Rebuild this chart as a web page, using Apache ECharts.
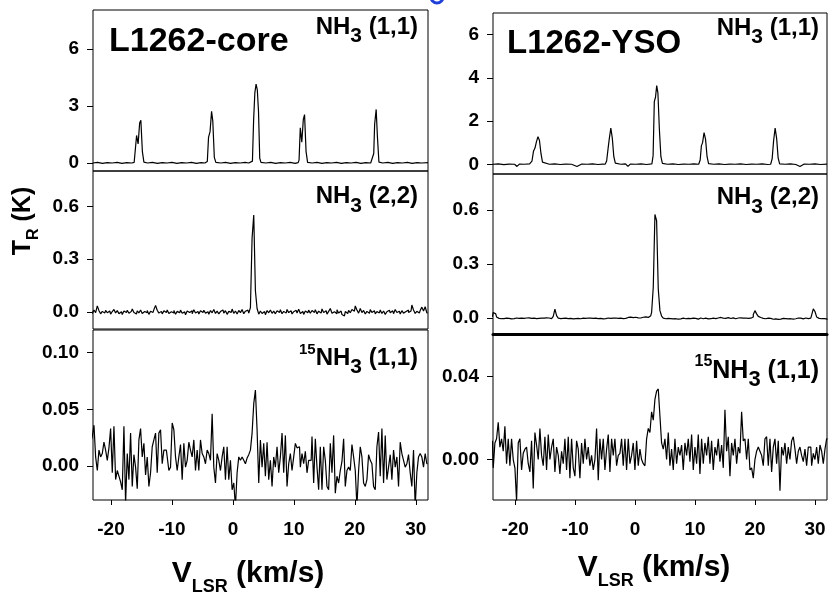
<!DOCTYPE html>
<html>
<head>
<meta charset="utf-8">
<script src="https://cdn.jsdelivr.net/npm/echarts@6/dist/echarts.min.js"></script>
<style>
  html, body { margin: 0; padding: 0; background: #fff; }
  #chart { width: 829px; height: 595px; }
</style>
</head>
<body>
<div id="chart"></div>
<script>
var FONT = '"Liberation Sans", Arial, sans-serif';

// channel grids (km/s) of the two spectra sets
var vStartCore = -23.2, dvCore = 0.273;
var vStartYso = -23.8, dvYso = 0.278;

// NH3 (1,1), read as [v, T(K)]
var nh311Core = [
  [-23.0,0.00],[-22.2,0.03],[-21.4,-0.02],[-20.6,0.02],[-19.8,0.00],[-19.0,0.03],[-18.2,-0.02],[-17.4,0.02],[-16.6,0.00],[-16.2,0.03],
  [-16.0,0.10],[-15.8,1.45],[-15.55,1.00],[-15.3,2.10],[-15.1,2.25],[-14.85,0.60],[-14.6,0.05],
  [-14.0,0.00],[-13.2,0.03],[-12.4,-0.02],[-11.6,0.02],[-10.8,0.00],[-10.0,0.03],[-9.2,-0.02],[-8.4,0.02],[-7.6,0.00],[-6.8,0.03],[-6.0,-0.02],[-5.2,0.02],[-4.6,0.00],
  [-4.2,0.08],[-4.0,1.35],[-3.75,1.65],[-3.5,2.72],[-3.3,2.20],[-3.05,0.30],[-2.8,0.03],
  [-2.0,0.00],[-1.2,0.03],[-0.4,-0.02],[0.4,0.02],[1.2,0.00],[2.0,0.03],[2.6,0.00],
  [3.2,0.10],[3.4,2.30],[3.6,3.70],[3.8,4.15],[4.0,3.85],[4.2,2.70],[4.4,0.25],[4.6,0.03],
  [5.4,0.00],[6.2,0.03],[7.0,-0.02],[7.8,0.02],[8.6,0.00],[9.4,0.03],[10.2,-0.02],[10.7,0.02],
  [10.85,0.15],[11.05,1.85],[11.3,1.10],[11.55,2.30],[11.75,2.55],[12.0,0.60],[12.25,0.03],
  [13.0,0.00],[13.8,0.03],[14.6,-0.02],[15.4,0.02],[16.2,0.00],[17.0,0.03],[17.8,-0.02],[18.6,0.02],[19.4,0.00],[20.2,0.03],[21.0,-0.02],[21.8,0.02],[22.6,0.00],
  [22.85,0.10],[23.1,0.50],[23.25,2.05],[23.5,2.82],[23.7,1.40],[23.95,0.05],
  [24.6,0.00],[25.4,0.03],[26.2,-0.02],[27.0,0.02],[27.8,0.00],[28.6,0.03],[29.4,-0.02],[30.2,0.02],[31.0,0.00],[32.0,0.02]
];
var nh311Yso = [
  [-23.7,0.00],[-22.8,0.02],[-21.9,-0.02],[-21.0,0.01],[-20.1,0.00],[-19.7,-0.10],[-19.3,0.01],[-18.5,0.00],[-17.6,0.02],
  [-17.2,0.15],[-16.95,0.60],[-16.7,0.75],[-16.45,1.05],[-16.2,1.28],[-15.95,1.10],[-15.7,0.50],[-15.45,0.10],[-15.2,0.02],
  [-14.3,0.00],[-13.4,0.02],[-12.5,-0.01],[-11.6,0.01],[-10.6,0.00],[-9.7,-0.10],[-8.9,0.01],[-8.0,0.00],[-7.1,0.02],[-6.2,-0.01],[-5.4,0.01],[-5.0,0.00],
  [-4.75,0.15],[-4.5,0.75],[-4.3,1.20],[-4.05,1.67],[-3.8,1.20],[-3.55,0.35],[-3.3,0.05],
  [-2.4,0.00],[-1.6,0.02],[-1.2,-0.10],[-0.8,0.01],[0.1,0.00],[1.0,0.02],[1.9,-0.01],[2.8,0.02],
  [3.0,0.40],[3.2,2.90],[3.4,3.10],[3.6,3.64],[3.8,3.30],[4.05,1.60],[4.3,0.35],[4.55,0.04],
  [5.4,0.00],[6.3,0.02],[7.2,-0.01],[8.1,0.01],[9.0,0.00],[9.8,0.02],[10.6,0.00],
  [10.85,0.20],[11.05,0.85],[11.25,1.00],[11.5,1.47],[11.75,1.15],[12.0,0.35],[12.25,0.03],
  [13.1,0.00],[14.0,0.02],[14.9,-0.01],[15.8,0.01],[16.7,0.00],[17.6,0.02],[18.5,-0.01],[19.4,0.01],[20.3,0.00],[21.2,0.02],[22.1,-0.01],[22.6,0.00],
  [22.85,0.25],[23.1,1.10],[23.35,1.67],[23.6,1.20],[23.85,0.30],[24.1,0.02],
  [25.0,0.00],[25.9,0.02],[26.8,-0.01],[27.5,-0.10],[28.2,0.01],[29.1,0.00],[30.0,0.02],[30.9,-0.01],[32.0,0.01]
];

// NH3 (2,2), mK per channel
var nh322Core = [
  5,-8,12,-3,35,8,-10,4,-6,10,
  -4,6,-12,3,15,-5,8,-9,2,-14,
  6,-3,10,-7,4,18,-2,-11,7,-5,
  12,-8,3,-4,9,-13,5,-2,14,38,
  10,-6,4,-10,7,-3,12,-8,2,-5,
  9,-12,4,-4,11,-7,1,-15,6,-2,
  8,-9,13,-5,3,-11,7,-3,10,-6,
  2,-12,9,-4,15,-8,5,-10,3,12,
  -6,8,-13,4,-2,17,-7,6,-11,9,
  -3,14,-9,5,11,-6,25,420,550,120,
  20,-12,6,-8,3,-15,9,-4,12,-7,
  5,-10,8,-2,13,-9,4,-6,15,-3,
  7,-11,2,10,-5,16,-8,3,-13,6,
  -4,11,-7,9,-2,14,-10,5,-6,18,
  -3,8,-12,4,20,-7,2,-9,13,-5,
  6,-14,-22,3,-8,10,-4,15,5,35,
  12,-6,20,-3,9,-11,4,-7,14,-2,
  8,-10,3,-5,12,-8,6,-13,2,10,
  -4,7,-9,15,-2,5,-11,8,-6,3,
  11,-3,6,40,12,-8,4,-5,9,28,
  6,30,-4
];
var nh322Yso = [
  5,30,22,5,-3,-5,0,-4,-2,-5,
  -3,-6,-2,-4,-1,-5,-3,-2,-6,-3,
  -1,-4,0,-3,-5,-2,-4,-1,-3,-2,
  -5,-2,0,-3,-1,-4,-2,8,48,12,
  -2,-4,-3,-5,-2,-4,-1,-3,-6,-2,
  -4,-3,-1,-5,-2,-6,-3,-1,-4,-2,
  -3,-5,-2,-4,0,-3,-6,-2,-4,-1,
  -5,-3,-2,-4,-1,-3,0,-2,-4,-1,
  -3,2,-1,4,1,-2,3,0,2,-1,
  3,1,5,2,6,12,30,170,575,540,
  160,40,10,-2,-5,-3,-8,-4,-6,-3,
  -5,-7,-4,-6,-2,-8,-5,-3,-6,-4,
  -2,-5,-3,-7,-4,-1,-5,-3,-2,-6,
  -3,-5,-2,0,-4,-1,-3,2,-2,0,
  -3,1,-1,-4,0,-2,-5,-1,-3,0,
  -2,-4,-1,-3,0,-2,5,18,40,22,
  8,2,-3,0,-5,-2,-6,-3,-8,-4,
  -6,-9,-5,-7,-3,-8,-4,-6,-2,-5,
  -7,-3,-5,-1,-4,-2,-6,-3,-1,-4,
  0,-2,15,50,35,5,-3,-5,-7,-4,
  -6,-9
];

// 15NH3 (1,1), mK per channel
var n15Core = [
  23,26,36,8,-4,14,8,11,21,14,
  5,16,33,-6,35,-12,-4,-9,-14,-21,
  35,-33,11,-12,29,-18,10,-1,-20,23,
  33,8,20,-8,8,-18,-6,17,23,29,
  -6,29,32,2,14,14,8,-4,-1,38,
  32,8,-4,8,19,-12,20,-1,5,21,
  14,8,23,-4,14,-4,23,11,8,2,
  14,11,5,46,-1,-15,11,5,-4,8,
  17,-12,17,-12,5,-21,-15,-36,-6,8,
  5,8,5,2,7,10,14,29,55,67,
  32,-15,23,
  -1,20,-9,21,-12,5,-18,8,-1,17,
  -6,8,29,-6,27,-18,2,11,-4,8,
  20,16,17,-1,11,2,13,-6,5,5,
  26,-15,24,-1,-21,17,-21,17,5,-18,
  -21,20,-6,27,-24,-9,-15,-4,4,24,
  -18,-4,-1,-4,19,8,-4,-36,-4,17,
  8,-15,-18,-12,10,5,2,-18,-21,17,
  30,-9,33,-15,27,-12,-1,10,-12,14,
  -1,8,-18,21,11,5,-1,2,10,-6,
  -18,14,-36,-6,8,11,8,-1,11,2
];
var n15Yso = [
  9,-4,8,10,18,6,10,4,16,-2,
  10,-3,10,0,-4,-20,8,10,-5,3,
  5,6,-2,-6,9,-14,13,7,0,15,
  2,-3,11,-5,12,0,6,10,-6,6,
  2,-7,4,-2,10,-5,11,-9,10,-4,
  -8,9,5,-9,8,-2,10,0,6,-3,
  2,-5,0,15,-10,10,0,10,-5,5,
  12,-6,10,2,10,-3,2,3,10,-3,
  10,-5,10,-2,2,8,-5,9,-3,5,
  0,-2,-3,10,15,13,23,19,29,33,
  34,21,8,
  5,10,0,13,-3,5,-5,10,-2,6,
  2,7,-5,8,2,10,-1,12,-5,6,
  -2,12,-7,10,-2,8,2,11,-2,9,
  -5,6,2,10,-1,7,-4,24,4,11,
  -8,8,2,10,-2,6,3,23,9,10,
  0,10,-5,-4,-9,0,4,6,4,2,
  -3,10,11,-3,10,-6,6,10,-2,9,
  -15,6,2,8,-2,6,0,9,11,5,
  -2,4,6,2,-1,5,-3,6,6,-3,
  3,0,6,-2,7,4,-2,5,10
];

// tick values
var vTicks = [-20, -10, 0, 10, 20, 30];
var tTicksCore11 = [0, 3, 6];
var tTicksYso11 = [0, 2, 4, 6];
var tTicks22 = [0, 0.3, 0.6];
var tTicksCore15 = [0, 0.05, 0.10];
var tTicksYso15 = [0, 0.04];

function channels(arr, v0, dv, scale) {
  return arr.map(function (t, i) {
    return [Math.round((v0 + i * dv) * 1000) / 1000, t * scale];
  });
}

var ctx = document.createElement('canvas').getContext('2d');
function textW(s, size) {
  ctx.font = 'bold ' + size + 'px ' + FONT;
  return ctx.measureText(s).width;
}
// parts: [text, fontSize, baseline shift]
function label(parts, x, base, anchor) {
  var total = 0;
  parts.forEach(function (p) { total += textW(p[0], p[1]); });
  var cx = anchor === 'right' ? x - total : (anchor === 'center' ? x - total / 2 : x);
  return parts.map(function (p) {
    var el = {
      type: 'text', x: cx, y: base + p[2] - 0.35 * p[1], silent: true,
      style: { text: p[0], fontSize: p[1], fontWeight: 'bold', fontFamily: FONT, fill: '#000', align: 'left', verticalAlign: 'middle' }
    };
    cx += textW(p[0], p[1]);
    return el;
  });
}

var grids = [
  { left: 93, top: 10, width: 335, height: 161 },
  { left: 93, top: 171, width: 335, height: 158 },
  { left: 93, top: 330, width: 335, height: 170 },
  { left: 493, top: 13, width: 334, height: 161 },
  { left: 493, top: 174, width: 334, height: 160 },
  { left: 493, top: 334, width: 334, height: 166 }
].map(function (g) {
  g.show = true; g.borderColor = '#000'; g.borderWidth = 1; g.containLabel = false;
  return g;
});

function xAx(gi, min, max, bottom, thickLine) {
  return {
    type: 'value', gridIndex: gi, min: min, max: max, position: 'bottom',
    splitLine: { show: false },
    axisLine: { show: !!thickLine, onZero: false, lineStyle: { color: '#000', width: 3 } },
    axisTick: { show: bottom, customValues: vTicks, length: 5, lineStyle: { color: '#000' } },
    axisLabel: {
      show: bottom, customValues: vTicks, margin: 20, color: '#000',
      fontSize: 19, fontWeight: 'bold', fontFamily: FONT
    }
  };
}
function yAx(gi, min, max, ticks, dec) {
  return {
    type: 'value', gridIndex: gi, min: min, max: max, position: 'left',
    splitLine: { show: false },
    axisLine: { show: false, onZero: false },
    axisTick: { show: true, customValues: ticks, length: 6, lineStyle: { color: '#000' } },
    axisLabel: {
      customValues: ticks, margin: 14, color: '#000',
      fontSize: 19, fontWeight: 'bold', fontFamily: FONT,
      formatter: function (v) { return v.toFixed(dec); }
    }
  };
}

function spec(i, data, step) {
  return {
    type: 'line', xAxisIndex: i, yAxisIndex: i, data: data,
    step: step ? 'middle' : false, showSymbol: false, silent: true, clip: true,
    lineStyle: { color: '#000', width: 1.2 }
  };
}

var graphics = []
  .concat(label([['L1262-core', 34, 0]], 109, 54, 'left'))
  .concat(label([['L1262-YSO', 33, 0]], 507, 55, 'left'))
  .concat(label([['NH', 24, 0], ['3', 21, 8], [' (1,1)', 24, 0]], 418, 36, 'right'))
  .concat(label([['NH', 24, 0], ['3', 21, 8], [' (1,1)', 24, 0]], 819, 37, 'right'))
  .concat(label([['NH', 24, 0], ['3', 21, 9], [' (2,2)', 24, 0]], 418, 205, 'right'))
  .concat(label([['NH', 24, 0], ['3', 21, 9], [' (2,2)', 24, 0]], 819, 206, 'right'))
  .concat(label([['15', 15, -12], ['NH', 24, 0], ['3', 21, 8], [' (1,1)', 24, 0]], 418, 367, 'right'))
  .concat(label([['15', 16, -13], ['NH', 25, 0], ['3', 22, 8], [' (1,1)', 25, 0]], 819, 380, 'right'))
  .concat(label([['V', 30, 0], ['LSR', 18, 9], [' (km/s)', 30, 0]], 248, 584, 'center'))
  .concat(label([['V', 30, 0], ['LSR', 18, 9], [' (km/s)', 30, 0]], 654, 578, 'center'));
graphics.push({
  type: 'group', x: 32, y: 221, rotation: Math.PI / 2,
  children: label([['T', 25, 0], ['R', 16, 7], [' (K)', 25, 0]], 0, 0, 'center')
});
graphics.push({
  type: 'arc', silent: true,
  shape: { cx: 437, cy: -3, r: 6, startAngle: 0, endAngle: Math.PI },
  style: { stroke: '#1f3fd8', lineWidth: 3, fill: 'none' }
});

var option = {
  animation: false,
  backgroundColor: '#fff',
  grid: grids,
  xAxis: [
    xAx(0, -22.95, 32, false),
    xAx(1, -22.95, 32, false),
    xAx(2, -22.95, 32, true),
    xAx(3, -23.7, 32, false),
    xAx(4, -23.7, 32, false, true),
    xAx(5, -23.7, 32, true)
  ],
  yAxis: [
    yAx(0, -0.42, 8.05, tTicksCore11, 0),
    yAx(1, -0.096, 0.8, tTicks22, 1),
    yAx(2, -0.03, 0.12, tTicksCore15, 2),
    yAx(3, -0.45, 7.0, tTicksYso11, 0),
    yAx(4, -0.09, 0.8, tTicks22, 1),
    yAx(5, -0.0195, 0.0605, tTicksYso15, 2)
  ],
  series: [
    spec(0, nh311Core, false),
    spec(1, channels(nh322Core, vStartCore, dvCore, 0.001), true),
    spec(2, channels(n15Core, vStartCore, dvCore, 0.001), true),
    spec(3, nh311Yso, false),
    spec(4, channels(nh322Yso, vStartYso, dvYso, 0.001), true),
    spec(5, channels(n15Yso, vStartYso, dvYso, 0.001), true)
  ],
  graphic: graphics
};

echarts.init(document.getElementById('chart')).setOption(option);
</script>
</body>
</html>
